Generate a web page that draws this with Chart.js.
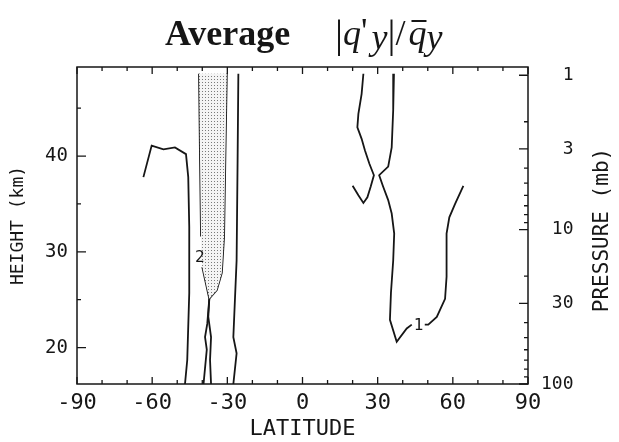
<!DOCTYPE html>
<html>
<head>
<meta charset="utf-8">
<script src="https://cdn.jsdelivr.net/npm/chart.js@4.4.1/dist/chart.umd.min.js"></script>
<style>
  html, body { margin: 0; padding: 0; background: #fff; }
  canvas { display: block; }
</style>
</head>
<body>
<canvas id="myChart" width="619" height="442"></canvas>
<script>
// axis ticks
const latTicks = [-90, -60, -30, 0, 30, 60, 90];
const heightTicks = [20, 30, 40];
const pressureTicks = [1, 3, 10, 30, 100];
const pressureMinor = [2, 4, 5, 6, 7, 8, 9, 20, 40, 50, 60, 70, 80, 90];

// contour 1, southern hemisphere (outer line)
const s1Lat = [-63.5, -60.2, -55.5, -50.9, -46.5, -45.6, -45.2, -45.2, -46.0, -46.9];
const s1Z   = [37.8, 41.1, 40.7, 40.9, 40.2, 37.8, 32.6, 25.7, 18.7, 16.2];

// contour 2 (shaded), west edge, split by the "2" label
const s2wTopLat = [-41.3, -40.9, -40.5];
const s2wTopZ   = [48.6, 39.6, 31.6];
const s2wLowLat = [-40.0, -37.2];
const s2wLowZ   = [28.4, 25.1];
// contour 2, east edge
const s2eLat = [-30.2, -30.8, -31.3, -32.2, -34.2, -37.2];
const s2eZ   = [48.6, 39.6, 31.6, 27.8, 26.0, 25.1];

// two lines below the tip of the shaded area
const tipALat = [-37.2, -38.0, -38.9, -38.2, -39.5];
const tipAZ   = [25.1, 22.5, 21.1, 19.8, 16.2];
const tipBLat = [-37.2, -37.6, -36.5, -36.9, -36.5];
const tipBZ   = [25.1, 23.2, 21.1, 18.7, 16.2];

// contour 1, east of the shaded area
const s1eLat = [-25.6, -25.9, -26.3, -27.6, -26.3, -27.6];
const s1eZ   = [48.6, 39.6, 29.1, 21.1, 19.4, 16.2];

// northern hemisphere, short contour
const n1Lat = [24.3, 23.6, 22.3, 21.9, 23.6, 24.9, 26.7, 28.5, 27.2, 25.9, 24.3, 22.3, 20.0];
const n1Z   = [48.6, 46.5, 44.4, 43.0, 41.8, 40.6, 39.2, 38.0, 36.8, 35.7, 35.1, 35.9, 36.9];

// northern hemisphere contour 1, split by the "1" label
const n2aLat = [36.5, 36.2, 35.6, 34.2, 30.6, 32.2, 34.2, 35.6, 36.6, 36.2, 35.3, 34.9, 37.6, 41.6, 43.6];
const n2aZ   = [48.6, 44.8, 40.9, 38.9, 38.0, 36.8, 35.4, 34.0, 31.9, 29.1, 25.7, 22.9, 20.6, 22.0, 22.4];
const n2bLat = [48.8, 50.2, 53.6, 56.9, 57.5, 57.5, 58.6, 60.9, 64.2];
const n2bZ   = [22.4, 22.4, 23.2, 25.1, 27.4, 31.9, 33.6, 35.0, 36.9];

// contour labels
const labelTwo = { lat: -41.0, z: 29.4, text: '2' };
const labelOne = { lat: 46.3, z: 22.3, text: '1' };

// height of a pressure level (km), scale height 7 km
function zOfP(p) { return 16.2 + 7 * Math.log(100 / p); }

function pts(lat, z) { return lat.map((v, i) => ({ x: v, y: z[i] })); }

Chart.defaults.font.family = '"DejaVu Sans Mono"';

const canvas = document.getElementById('myChart');
const ctx = canvas.getContext('2d');

// dotted shading
const pc = document.createElement('canvas');
pc.width = 3; pc.height = 3;
const pctx = pc.getContext('2d');
pctx.fillStyle = '#f4f4f4'; pctx.fillRect(0, 0, 3, 3);
pctx.fillStyle = '#7a7a7a'; pctx.fillRect(1, 1, 1, 1);
const dots = ctx.createPattern(pc, 'repeat');

const shadeLat = s2wTopLat.concat([labelTwo.lat + 0.5], s2wLowLat, s2eLat.slice(0, -1).reverse());
const shadeZ = s2wTopZ.concat([labelTwo.z], s2wLowZ, s2eZ.slice(0, -1).reverse());

const ink = '#161616';
function line(lat, z) {
  return { data: pts(lat, z), showLine: true, borderColor: ink, borderWidth: 1.8, pointRadius: 0, fill: false };
}

const frame = {
  id: 'frame',
  afterDraw(chart) {
    const { ctx, chartArea: a, scales } = chart;
    ctx.save();
    ctx.strokeStyle = ink;
    ctx.lineWidth = 1.5;
    ctx.strokeRect(a.left, a.top, a.right - a.left, a.bottom - a.top);
    ctx.lineWidth = 1.3;
    ctx.beginPath();
    for (let lat = -90; lat <= 90; lat += 10) {
      const px = scales.x.getPixelForValue(lat);
      const len = lat % 30 === 0 ? 7 : 4;
      ctx.moveTo(px, a.bottom); ctx.lineTo(px, a.bottom - len);
      ctx.moveTo(px, a.top); ctx.lineTo(px, a.top + len);
    }
    for (let h = 20; h <= 45; h += 5) {
      const py = scales.y.getPixelForValue(h);
      const len = h % 10 === 0 ? 9 : 4;
      ctx.moveTo(a.left, py); ctx.lineTo(a.left + len, py);
    }
    pressureTicks.forEach(p => {
      const py = scales.yP.getPixelForValue(zOfP(p));
      ctx.moveTo(a.right, py); ctx.lineTo(a.right - 9, py);
    });
    pressureMinor.forEach(p => {
      const py = scales.yP.getPixelForValue(zOfP(p));
      ctx.moveTo(a.right, py); ctx.lineTo(a.right - 4, py);
    });
    ctx.stroke();

    // contour labels
    ctx.fillStyle = ink;
    ctx.font = '16px "DejaVu Sans Mono"';
    ctx.textAlign = 'center';
    ctx.textBaseline = 'middle';
    [labelTwo, labelOne].forEach(l => {
      ctx.fillText(l.text, scales.x.getPixelForValue(l.lat), scales.y.getPixelForValue(l.z));
    });

    // right axis title, reading upward
    ctx.save();
    ctx.translate(603, 230);
    ctx.rotate(-Math.PI / 2);
    ctx.font = '21px "DejaVu Sans Mono"';
    ctx.fillText('PRESSURE (mb)', 0, 0);
    ctx.restore();

    // main title
    ctx.textAlign = 'left';
    ctx.textBaseline = 'alphabetic';
    ctx.font = 'bold 36px "Liberation Serif"';
    ctx.fillText('Average', 165, 45);
    let x = 335;
    const up = '36px "Liberation Serif"';
    const it = 'italic 36px "Liberation Serif"';
    function put(t, font, dy) {
      ctx.font = font;
      ctx.fillText(t, x, 45 + (dy || 0));
      x += ctx.measureText(t).width;
    }
    put('|', '40px "Liberation Serif"', 2);
    put('q', it);
    put("'", up, -2);
    x += 4;
    put('y', it, 4);
    put('|', '40px "Liberation Serif"', 2);
    put('/', up);
    x += 3;
    const qx = x;
    put('q', it);
    ctx.fillRect(qx + 3, 20, 15, 2);
    put('y', it, 4);
    ctx.restore();
  }
};

new Chart(ctx, {
  type: 'scatter',
  data: {
    datasets: [
      { data: pts(shadeLat, shadeZ), showLine: true, borderWidth: 0, pointRadius: 0,
        fill: 'shape', backgroundColor: dots, borderColor: 'rgba(0,0,0,0)' },
      line(s1Lat, s1Z),
      line(s2wTopLat, s2wTopZ),
      line(s2wLowLat, s2wLowZ),
      line(s2eLat, s2eZ),
      line(tipALat, tipAZ),
      line(tipBLat, tipBZ),
      line(s1eLat, s1eZ),
      line(n1Lat, n1Z),
      line(n2aLat, n2aZ),
      line(n2bLat, n2bZ)
    ]
  },
  options: {
    responsive: false,
    animation: false,
    layout: { padding: 0 },
    plugins: { legend: { display: false }, tooltip: { enabled: false } },
    scales: {
      x: {
        type: 'linear', position: 'bottom', min: -90, max: 90,
        afterBuildTicks: s => { s.ticks = latTicks.map(v => ({ value: v })); },
        afterFit: s => { s.height = 58; },
        grid: { display: false, drawTicks: false },
        border: { display: false },
        ticks: { color: ink, font: { size: 22 }, padding: 6, maxRotation: 0, autoSkip: false },
        title: { display: true, text: 'LATITUDE', color: ink, font: { size: 22 }, padding: { top: 4, bottom: 0 } }
      },
      xTop: {
        type: 'linear', position: 'top', min: -90, max: 90,
        afterFit: s => { s.height = 67; },
        grid: { display: false, drawTicks: false },
        border: { display: false },
        ticks: { display: false }
      },
      y: {
        type: 'linear', position: 'left', min: 16.2, max: 49.3,
        afterBuildTicks: s => { s.ticks = heightTicks.map(v => ({ value: v })); },
        afterFit: s => { s.width = 77; },
        grid: { display: false, drawTicks: false },
        border: { display: false },
        ticks: { color: ink, font: { size: 19 }, padding: 9 },
        title: { display: true, text: 'HEIGHT (km)', color: ink, font: { size: 18 }, padding: { top: 8, bottom: 0 } }
      },
      yP: {
        type: 'linear', position: 'right', min: 16.2, max: 49.3,
        afterBuildTicks: s => { s.ticks = pressureTicks.map(p => ({ value: zOfP(p) })); },
        afterFit: s => { s.width = 91; },
        grid: { display: false, drawTicks: false },
        border: { display: false },
        ticks: { color: ink, font: { size: 18 }, padding: 13,
                 callback: (v, i) => String(pressureTicks[i]).padStart(3, ' ') }
      }
    }
  },
  plugins: [frame]
});
</script>
</body>
</html>
